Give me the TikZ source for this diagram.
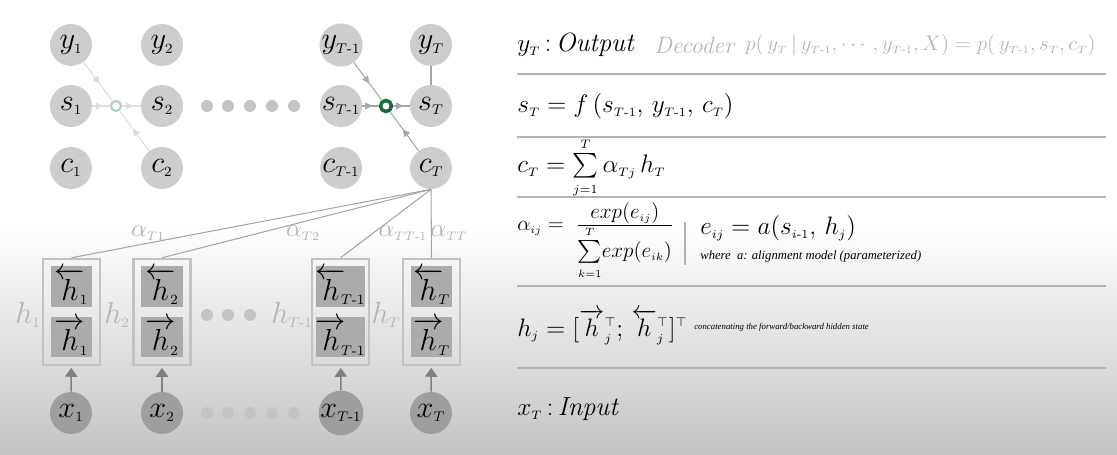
\documentclass[tikz,border=0pt]{standalone}
\usepackage{amsmath}
\usepackage{amssymb}
\usepackage{xcolor}
\usepackage{fontspec}
\newfontfamily\notefont{Liberation Serif}
\usetikzlibrary{arrows.meta,positioning,decorations.markings}
\newcommand{\tsub}[1]{_{\scriptscriptstyle #1}}
\newcommand{\tsup}[1]{^{\scriptscriptstyle #1}}
\definecolor{nodegray}{HTML}{CDCDCD}
\definecolor{inputgray}{HTML}{9E9E9E}
\definecolor{cellgray}{HTML}{ABABAB}
\definecolor{boxgray}{HTML}{C2C2C2}
\definecolor{dotgray}{HTML}{C4C4C4}
\definecolor{labelgray}{HTML}{B4B4B4}
\definecolor{linegray}{HTML}{A6A6A6}
\definecolor{fadegray}{HTML}{DDDDDD}
\definecolor{fadegreen}{HTML}{A9D3C2}
\definecolor{darkgreen}{HTML}{1B6B3E}
\definecolor{rulegray}{HTML}{B2B2B2}
\definecolor{bgbottom}{HTML}{C4C4C4}
\tikzset{
	>=Stealth,
	unit/.style={circle, fill=nodegray, minimum size=0.84cm, inner sep=0pt, font=\fontsize{17}{17}\selectfont},
	input/.style={unit, fill=inputgray},
	hcell/.style={rectangle, fill=cellgray, minimum width=0.84cm, minimum height=0.81cm, inner sep=0pt, font=\fontsize{16}{16}\selectfont},
	hbox/.style={rectangle, draw=boxgray, line width=1.4pt, minimum width=1.14cm, minimum height=2.12cm, inner sep=0pt},
	dot/.style={circle, fill=dotgray, minimum size=0.24cm, inner sep=0pt},
	gate/.style={circle, draw=#1, line width=1.2pt, minimum size=0.2cm, inner sep=0pt},
	hlabel/.style={text=labelgray, font=\fontsize{17}{17}\selectfont},
	alabel/.style={text=labelgray, font=\fontsize{14}{14}\selectfont},
	link/.style={draw=linegray, line width=0.6pt},
	midarrow/.style={postaction={decorate}, decoration={markings, mark=at position #1 with {\arrow{Triangle[length=4pt,width=4pt]}}}},
	rule/.style={draw=rulegray, line width=0.9pt},
	eq/.style={anchor=west, inner sep=0pt, font=\fontsize{15}{18}\selectfont},
	note/.style={anchor=west, inner sep=0pt, font=\notefont\itshape\fontsize{7.2}{8}\selectfont}
}

\begin{document}
\begin{tikzpicture}[x=0.02cm, y=-0.02cm]

	% --- Background ---
	\fill[white] (0,0) rectangle (1117,225);
	\shade[top color=white, bottom color=bgbottom] (0,225) rectangle (1117,455);
	\useasboundingbox (0,0) rectangle (1117,455);

	% --- Decoder nodes ---
	\node[unit] (y1) at (71,45) {$y\tsub{1}$};
	\node[unit] (y2) at (162,45) {$y\tsub{2}$};
	\node[unit] (yT1) at (341,45) {$y\tsub{T\text{-}1}$};
	\node[unit] (yT) at (431,45) {$y\tsub{T}$};

	\node[unit] (s1) at (71,106) {$s\tsub{1}$};
	\node[unit] (s2) at (162,106) {$s\tsub{2}$};
	\node[unit] (sT1) at (341,106) {$s\tsub{T\text{-}1}$};
	\node[unit] (sT) at (431,106) {$s\tsub{T}$};

	\node[unit] (c1) at (71,168) {$c\tsub{1}$};
	\node[unit] (c2) at (162,168) {$c\tsub{2}$};
	\node[unit] (cT1) at (341,168) {$c\tsub{T\text{-}1}$};
	\node[unit] (cT) at (431,168) {$c\tsub{T}$};

	\node[gate=fadegreen] (g1) at (116,106) {};
	\node[gate=darkgreen, line width=2pt, minimum size=0.22cm] (gT) at (386,106) {};

	\node[dot] (sd1) at (207,106) {};
	\node[dot] (sd2) at (228,106) {};
	\node[dot] (sd3) at (250,106) {};
	\node[dot] (sd4) at (272,106) {};
	\node[dot] (sd5) at (294,106) {};

	% --- Encoder nodes ---
	\node[hbox] (h1) at (71.5,312) {};
	\node[hbox] (h2) at (162,312) {};
	\node[hbox] (hT1) at (340.5,312) {};
	\node[hbox] (hT) at (431.5,312) {};

	\node[hcell] (b1) at (71.5,286.5) {$\overleftarrow{h}\!\tsub{1}$};
	\node[hcell] (f1) at (71.5,337) {$\overrightarrow{h}\!\tsub{1}$};
	\node[hcell] (b2) at (162,286.5) {$\overleftarrow{h}\!\tsub{2}$};
	\node[hcell] (f2) at (162,337) {$\overrightarrow{h}\!\tsub{2}$};
	\node[hcell] (bT1) at (340.5,286.5) {$\overleftarrow{h}\!\tsub{T\text{-}1}$};
	\node[hcell] (fT1) at (340.5,337) {$\overrightarrow{h}\!\tsub{T\text{-}1}$};
	\node[hcell] (bT) at (431.5,286.5) {$\overleftarrow{h}\!\tsub{T}$};
	\node[hcell] (fT) at (431.5,337) {$\overrightarrow{h}\!\tsub{T}$};

	\node[hlabel] (lh1) at (28,315) {$h\tsub{1}$};
	\node[hlabel] (lh2) at (117,315) {$h\tsub{2}$};
	\node[hlabel] (lhT1) at (292,315) {$h\tsub{T\text{-}1}$};
	\node[hlabel] (lhT) at (386,315) {$h\tsub{T}$};

	\node[dot] (hd1) at (207,315) {};
	\node[dot] (hd2) at (228,315) {};
	\node[dot] (hd3) at (250,315) {};

	\node[input] (x1) at (71,413) {$x\tsub{1}$};
	\node[input] (x2) at (162,413) {$x\tsub{2}$};
	\node[input] (xT1) at (341,413) {$x\tsub{T\text{-}1}$};
	\node[input] (xT) at (431,413) {$x\tsub{T}$};

	\node[dot] (xd1) at (207,413) {};
	\node[dot] (xd2) at (228,413) {};
	\node[dot] (xd3) at (250,413) {};
	\node[dot] (xd4) at (272,413) {};
	\node[dot] (xd5) at (294,413) {};

	\node[alabel] (a1) at (148,233) {$\alpha\tsub{T1}$};
	\node[alabel] (a2) at (303,233) {$\alpha\tsub{T2}$};
	\node[alabel] (aT1) at (403,233) {$\alpha\tsub{TT\text{-}1}$};
	\node[alabel] (aT) at (449,233) {$\alpha\tsub{TT}$};

	% --- Connections ---
	\draw[draw=fadegray, line width=0.6pt, midarrow=0.6] (s1) -- (g1);
	\draw[draw=fadegray, line width=0.6pt, midarrow=0.6] (g1) -- (s2);
	\draw[draw=fadegray, line width=0.6pt, midarrow=0.55] (y1) -- (g1);
	\draw[draw=fadegray, line width=0.6pt, midarrow=0.55] (c2) -- (g1);

	\draw[link, midarrow=0.6] (sT1) -- (gT);
	\draw[link, midarrow=0.6] (gT) -- (sT);
	\draw[link, midarrow=0.55] (yT1) -- (gT);
	\draw[link, midarrow=0.55] (cT) -- (gT);
	\draw[link] (yT) -- (sT);

	\draw[link] (cT.south) -- (h1.north);
	\draw[link] (cT.south) -- (h2.north);
	\draw[link] (cT.south) -- (hT1.north);
	\draw[link] (cT.south) -- (hT.north);

	\draw[draw=gray, line width=0.8pt, -{Triangle[length=5pt,width=7pt]}, shorten >=1pt] (x1) -- (h1);
	\draw[draw=gray, line width=0.8pt, -{Triangle[length=5pt,width=7pt]}, shorten >=1pt] (x2) -- (h2);
	\draw[draw=gray, line width=0.8pt, -{Triangle[length=5pt,width=7pt]}, shorten >=1pt] (xT1) -- (hT1);
	\draw[draw=gray, line width=0.8pt, -{Triangle[length=5pt,width=7pt]}, shorten >=1pt] (xT) -- (hT);

	% --- Equations ---
	\node[eq] (out) at (517,45) {$y\tsub{T}$\,:\,\textit{Output}};
	\node[eq, text=labelgray, font=\fontsize{13.5}{15}\selectfont] (dec) at (654,45) {\textit{Decoder}};
	\node[eq, text=labelgray, font=\fontsize{13}{15}\selectfont] (lik) at (745,45) {$p(\,y\tsub{T}\,|\,y\tsub{T\text{-}1},\cdots,y\tsub{T\text{-}1},X)=p(\,y\tsub{T\text{-}1},s\tsub{T},c\tsub{T})$};
	\node[eq, font=\fontsize{14}{16}\selectfont] (state) at (517,106) {$s\tsub{T}=f\,(s\tsub{T\text{-}1},\,y\tsub{T\text{-}1},\,c\tsub{T})$};
	\node[eq, font=\fontsize{14}{16}\selectfont] (ctx) at (517,168) {$c\tsub{T}=\sum\limits\tsub{j=1}\tsup{T}\alpha\tsub{Tj}\,h\tsub{T}$};
	\node[eq, font=\fontsize{13}{15}\selectfont] (align) at (517,241) {$\alpha\tsub{ij}=\;\frac{\textstyle exp(e\tsub{ij})}{\textstyle\sum\limits\tsub{k=1}\tsup{T}\!exp(e\tsub{ik})}$};
	\node[eq] (score) at (700,228) {$e\tsub{ij}=a(s\tsub{i\text{-}1},\,h\tsub{j})$};
	\node[note] (where) at (700,256) {where\ \ a: alignment model (parameterized)};
	\node[eq] (concat) at (517,327) {$h\tsub{j}=[\overrightarrow{h}{}\tsup{\top}\tsub{j};\,\overleftarrow{h}{}\tsup{\top}\tsub{j}]\tsup{\top}$};
	\node[note, font=\notefont\itshape\fontsize{5}{7}\selectfont, right=0.12cm of concat] (cdesc) {concatenating the forward/backward hidden state};
	\node[eq] (inp) at (517,409) {$x\tsub{T}$\,:\,\textit{Input}};

	% --- Rules ---
	\draw[rule] (517,74) -- (1106,74);
	\draw[rule] (517,137) -- (1106,137);
	\draw[rule] (517,197) -- (1106,197);
	\draw[rule] (517,286) -- (1106,286);
	\draw[rule] (517,368) -- (1106,368);
	\draw[draw=rulegray, line width=0.8pt] (685,222) -- (685,265);

\end{tikzpicture}
\end{document}
